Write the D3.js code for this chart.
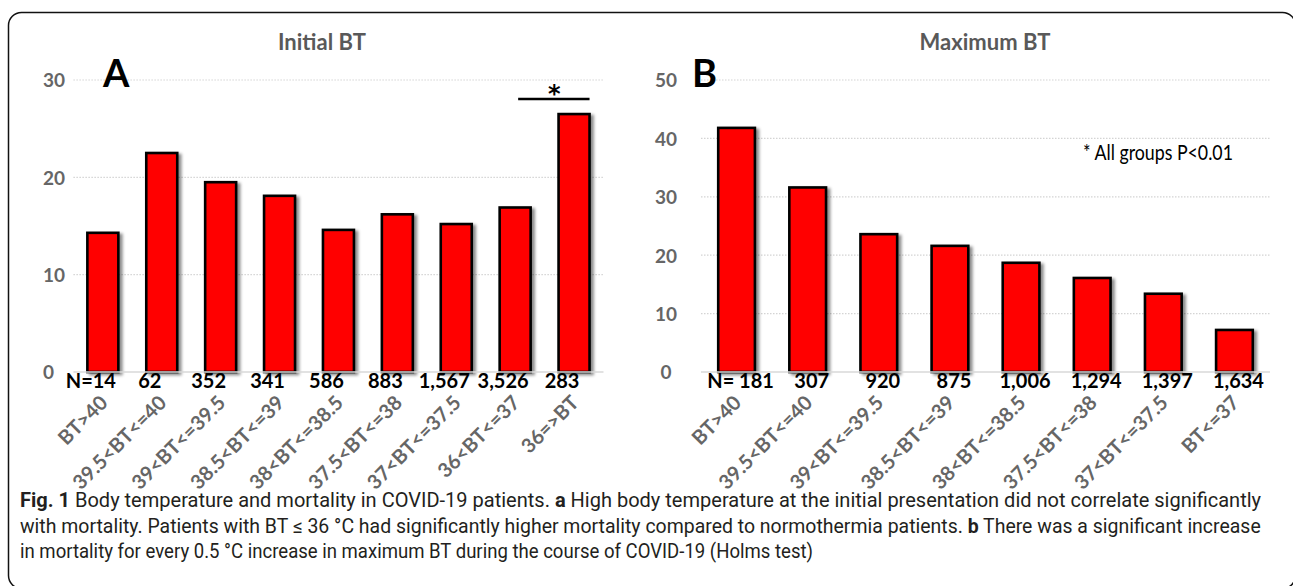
<!DOCTYPE html>
<html>
<head>
<meta charset="utf-8">
<script src="https://cdnjs.cloudflare.com/ajax/libs/d3/7.8.5/d3.min.js"></script>
<style>
  body { margin: 0; background: #fff; }
</style>
</head>
<body>
<script>
// panel A: initial body temperature
const catsA = ['BT>40', '39.5<BT<=40', '39<BT<=39.5', '38.5<BT<=39', '38<BT<=38.5',
  '37.5<BT<=38', '37<BT<=37.5', '36<BT<=37', '36=>BT'];
const mortA = [14.3, 22.5, 19.5, 18.1, 14.6, 16.2, 15.2, 16.9, 26.5];
const nA = ['N=14', '62', '352', '341', '586', '883', '1,567', '3,526', '283'];
const ticksA = [0, 10, 20, 30];

// panel B: maximum body temperature
const catsB = ['BT>40', '39.5<BT<=40', '39<BT<=39.5', '38.5<BT<=39', '38<BT<=38.5',
  '37.5<BT<=38', '37<BT<=37.5', 'BT<=37'];
const mortB = [41.8, 31.6, 23.6, 21.6, 18.7, 16.1, 13.4, 7.2];
const nB = ['N= 181', '307', '920', '875', '1,006', '1,294', '1,397', '1,634'];
const ticksB = [0, 10, 20, 30, 40, 50];

const W = 1293, H = 586;
const svg = d3.select('body').append('svg')
  .attr('width', W)
  .attr('height', H)
  .attr('font-family', 'Lato, "Open Sans", sans-serif');

// squeeze a text horizontally, either to a width or by a factor
const squeeze = (sel, x0, k) => {
  sel.attr('x', 0)
    .attr('transform', `translate(${x0},0) scale(${k},1)`);
};
const fitWidth = (sel, x0, width) => {
  const k = width / sel.node().getComputedTextLength();
  squeeze(sel, x0, k);
  return k;
};

// drop shadow for the bars
const defs = svg.append('defs');
defs.append('filter')
  .attr('id', 'shadow')
  .attr('x', '-20%').attr('y', '-20%')
  .attr('width', '150%').attr('height', '150%')
  .append('feDropShadow')
  .attr('dx', 3).attr('dy', 2)
  .attr('stdDeviation', 1.8)
  .attr('flood-color', '#000')
  .attr('flood-opacity', 0.45);

// outer frame
svg.append('rect')
  .attr('x', 8.5).attr('y', 12.5)
  .attr('width', 1287).attr('height', 576)
  .attr('rx', 13)
  .attr('fill', '#fff')
  .attr('stroke', '#111')
  .attr('stroke-width', 1.5);

const drawPanel = (p) => {
  const g = svg.append('g');

  const x = d3.scaleBand()
    .domain(p.cats)
    .range(p.xRange)
    .paddingInner(p.pad)
    .paddingOuter(p.pad / 2);

  const y = d3.scaleLinear()
    .domain([0, d3.max(p.ticks)])
    .range([372, 80]);

  // dotted gridlines
  g.selectAll('.grid')
    .data(p.ticks.filter((t) => t > 0))
    .enter()
    .append('line')
    .attr('x1', p.xRange[0])
    .attr('x2', p.xRange[1])
    .attr('y1', (d) => y(d))
    .attr('y2', (d) => y(d))
    .attr('stroke', '#d4d4d4')
    .attr('stroke-width', 1.2)
    .attr('stroke-dasharray', '1.5,1.5');

  // y axis labels
  const yAxis = d3.axisLeft(y)
    .tickValues(p.ticks)
    .tickSize(0)
    .tickPadding(0);
  const ya = g.append('g')
    .attr('transform', `translate(${p.yLabelX},0)`)
    .call(yAxis);
  ya.select('.domain').remove();
  ya.attr('font-family', null).attr('font-size', null);
  ya.selectAll('text')
    .attr('fill', '#666')
    .attr('font-size', 19)
    .attr('font-weight', 700)
    .attr('text-anchor', p.yAnchor)
    .attr('dy', '0.36em');

  // bars
  g.selectAll('.bar')
    .data(p.vals)
    .enter()
    .append('rect')
    .attr('x', (d, i) => x(p.cats[i]))
    .attr('y', (d) => y(d))
    .attr('width', x.bandwidth())
    .attr('height', (d) => y(0) - y(d))
    .attr('fill', '#ff0000')
    .attr('stroke', '#000')
    .attr('stroke-width', 2.6)
    .attr('filter', 'url(#shadow)');

  // baseline
  g.append('line')
    .attr('x1', p.xRange[0])
    .attr('x2', p.xRange[1])
    .attr('y1', y(0))
    .attr('y2', y(0))
    .attr('stroke', '#d9d9d9')
    .attr('stroke-width', 1.5);

  // N counts
  g.selectAll('.n')
    .data(p.n)
    .enter()
    .append('text')
    .attr('x', (d, i) => x(p.cats[i]) + x.bandwidth() / 2 + p.nShift)
    .attr('y', 388)
    .attr('text-anchor', 'middle')
    .attr('font-size', 20)
    .attr('font-weight', 700)
    .attr('fill', '#000')
    .text((d) => d);

  // rotated category labels
  g.selectAll('.cat')
    .data(p.cats)
    .enter()
    .append('text')
    .attr('transform', (d) => `translate(${x(d) + x.bandwidth() / 2 + 6},404) rotate(-45)`)
    .attr('text-anchor', 'end')
    .attr('font-size', 20)
    .attr('font-weight', 700)
    .attr('fill', '#666')
    .text((d) => d);

  // title and panel letter
  g.append('text')
    .attr('x', p.titleX)
    .attr('y', 50)
    .attr('text-anchor', 'middle')
    .attr('font-size', 22)
    .attr('font-weight', 700)
    .attr('fill', '#595959')
    .text(p.title);

  g.append('text')
    .attr('x', p.letterX)
    .attr('y', 87)
    .attr('font-size', 38)
    .attr('font-weight', 700)
    .attr('fill', '#000')
    .text(p.letter);

  return { x, y, g };
};

const A = drawPanel({
  cats: catsA, vals: mortA, n: nA, ticks: ticksA,
  xRange: [73.4, 603.5], pad: 0.474, yLabelX: 43, yAnchor: 'start', nShift: -12,
  title: 'Initial BT', titleX: 322, letter: 'A', letterX: 103
});

const B = drawPanel({
  cats: catsB, vals: mortB, n: nB, ticks: ticksB,
  xRange: [701, 1270], pad: 0.484, yLabelX: 666, yAnchor: 'middle', nShift: 4,
  title: 'Maximum BT', titleX: 985, letter: 'B', letterX: 692
});

// significance mark over the last group of panel A
const bwA = A.x.bandwidth();
A.g.append('line')
  .attr('x1', A.x(catsA[7]) + bwA / 2 + 3)
  .attr('x2', A.x(catsA[8]) + bwA)
  .attr('y1', 99)
  .attr('y2', 99)
  .attr('stroke', '#000')
  .attr('stroke-width', 2.7);
A.g.append('text')
  .attr('x', (A.x(catsA[7]) + bwA / 2 + A.x(catsA[8]) + bwA) / 2 + 2)
  .attr('y', 102)
  .attr('text-anchor', 'middle')
  .attr('font-size', 24)
  .attr('font-weight', 700)
  .attr('font-family', '"DejaVu Sans", sans-serif')
  .attr('fill', '#000')
  .text('*');

const note = B.g.append('text')
  .attr('y', 160)
  .attr('font-size', 22)
  .attr('fill', '#000')
  .text('* All groups P<0.01');
fitWidth(note, 1083, 150);

// figure caption (first two lines justified, last line left)
const caption = [
  { y: 507, parts: [['Fig. 1', 700], [' Body temperature and mortality in COVID-19 patients. ', 400], ['a', 700],
    [' High body temperature at the initial presentation did not correlate significantly', 400]] },
  { y: 533, parts: [['with mortality. Patients with BT \u2264 36 \u00b0C had significantly higher mortality compared to normothermia patients. ', 400],
    ['b', 700], [' There was a significant increase', 400]] },
  { y: 558, parts: [['in mortality for every 0.5 \u00b0C increase in maximum BT during the course of COVID-19 (Holms test)', 400]] }
];

let kSum = 0;
caption.forEach((line, i) => {
  const t = svg.append('text')
    .attr('y', line.y)
    .attr('font-size', 20)
    .attr('font-family', 'Roboto, sans-serif')
    .attr('fill', '#231f20')
    .attr('xml:space', 'preserve');
  line.parts.forEach((p) => {
    t.append('tspan')
      .attr('font-weight', p[1])
      .text(p[0]);
  });
  if (i < caption.length - 1) {
    kSum += fitWidth(t, 20, 1242);
  } else {
    // last line is not justified, so it sits a little tighter
    squeeze(t, 20, 0.94 * kSum / (caption.length - 1));
  }
});
</script>
</body>
</html>
